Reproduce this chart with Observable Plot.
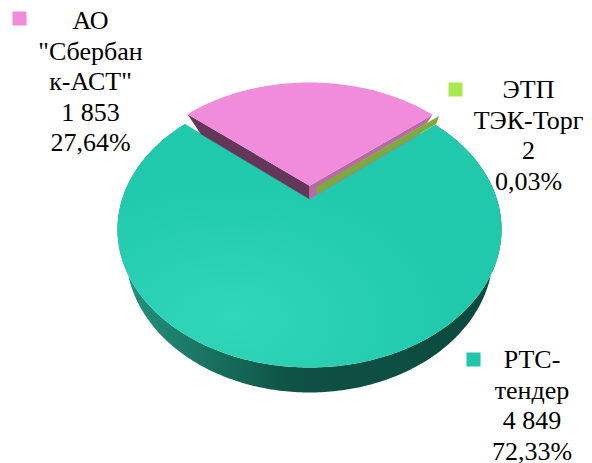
<!DOCTYPE html>
<html><head><meta charset="utf-8">
<style>html,body{margin:0;padding:0;background:#fff}svg{display:block}</style>
<script src="https://cdn.jsdelivr.net/npm/d3@7"></script>
<script src="https://cdn.jsdelivr.net/npm/@observablehq/plot@0.6"></script>
</head><body><div id="chart"></div>
<script>
// Data, clockwise from the back-left edge of the pink slice
const names = ['АО\n"Сбербан\nк-АСТ"', "ЭТП\nТЭК-Торг", "РТС-\nтендер"];
const values = [1853, 2, 4849];
const topColors = ["#f08cda", "#a9e94f", "url(#tealTop)"];

const W = 592, H = 463;
const total = d3.sum(values);
const fmtValue = v => String(v).replace(/\B(?=(\d{3})+$)/g, " ");
const fmtPct = v => (v / total * 100).toFixed(2).replace(".", ",") + "%";
const labels = names.map((n, i) => `${n}\n${fmtValue(values[i])}\n${fmtPct(values[i])}`);

// Perspective view of the two planes of the disc
const upper = {f: 187.2, g: 131.3, k: 0.223, y0: 198};
const lower = {f: 175, g: 126.5, k: 0.301, y0: 211};
const cx = 309;
const project = (p, X, Z) => {
  const w = 1 + p.k * Z;
  return {x: cx + p.f * X / w, y: p.y0 - p.g * Z / w};
};
const start = -49.5 * Math.PI / 180;
const arcs = d3.pie().sort(null).startAngle(start).endAngle(start + 2 * Math.PI)(values);
const explode = [[0, 0.1], [0.038, 0.09], [0, 0]];
const rim = (a, off, p) => project(p, Math.sin(a) + off[0], Math.cos(a) + off[1]);
const angles = (a, b) => { const n = Math.max(1, Math.ceil((b - a) / 0.012)); return d3.range(n + 1).map(i => a + (b - a) * i / n); };
const apex = (off, p) => project(p, off[0], off[1]);
const sector = (i, p) => [apex(explode[i], p), ...angles(arcs[i].startAngle, arcs[i].endAngle).map(a => rim(a, explode[i], p))];
const radialWall = (a, i) => [apex(explode[i], upper), rim(a, explode[i], upper), rim(a, explode[i], lower), apex(explode[i], lower)];

// teal outer wall
const tealArc = angles(arcs[2].startAngle, arcs[2].endAngle);
const tealWall = [...tealArc.map(a => rim(a, explode[2], upper)), ...tealArc.slice().reverse().map(a => rim(a, explode[2], lower))];
// the tiny green slice: only its side face shows
const gA = apex(explode[1], upper), gB = rim(arcs[1].endAngle, explode[1], upper);
const greenWall = [gA, gB, {x: gB.x - 3, y: gB.y + 8}, {x: gA.x, y: gA.y + 7.6}];

const surface = (pts, fill) => Plot.line(pts, {x: "x", y: "y", fill, stroke: "none"});
const defs = () => {
  const s = d3.create("svg:defs");
  const lin = s.append("linearGradient").attr("id", "tealWall");
  [[0.03, "#23917b"], [0.45, "#0e5245"], [1, "#0b4a3e"]].forEach(([o, c]) => lin.append("stop").attr("offset", o).attr("stop-color", c));
  const rad = s.append("radialGradient").attr("id", "tealTop").attr("cx", 0.3).attr("cy", 0.8).attr("r", 0.62);
  [[0, "#30d7b9"], [0.5, "#28cfb2"], [1, "#20c9ac"]].forEach(([o, c]) => rad.append("stop").attr("offset", o).attr("stop-color", c));
  return s.node();
};
const textLabel = (i, dx, dy) => Plot.text([labels[i]], {
  text: d => d, frameAnchor: "top-left", dx, dy, textAnchor: "middle", lineAnchor: "top",
  fontFamily: "Liberation Serif", fontSize: 26, lineHeight: 1.173, fill: "#000"
});
const keySquare = (i, dx, dy) => Plot.dot([values[i]], {
  frameAnchor: "top-left", dx, dy, symbol: "square", r: 7.9, fill: i === 2 ? "#1fc6aa" : topColors[i], stroke: "none"
});

const plot = Plot.plot({
  width: W, height: H, margin: 0, axis: null,
  style: {background: "#fff"},
  x: {domain: [0, W], range: [0, W]},
  y: {domain: [0, H], range: [0, H]},
  marks: [
    defs,
    surface(tealWall, "url(#tealWall)"),
    surface(sector(2, upper), topColors[2]),
    surface(radialWall(arcs[0].endAngle, 0), "#b86aa6"),
    surface(radialWall(arcs[0].startAngle, 0), "#63365a"),
    surface(sector(0, upper), topColors[0]),
    surface(greenWall, "#7dab39"),
    surface(sector(1, upper), topColors[1]),
    textLabel(0, 90, 7), textLabel(1, 528, 76), textLabel(2, 531.5, 346),
    keySquare(0, 19, 18), keySquare(1, 455, 89), keySquare(2, 473, 359)
  ]
});
document.getElementById("chart").append(plot);
</script></body></html>
